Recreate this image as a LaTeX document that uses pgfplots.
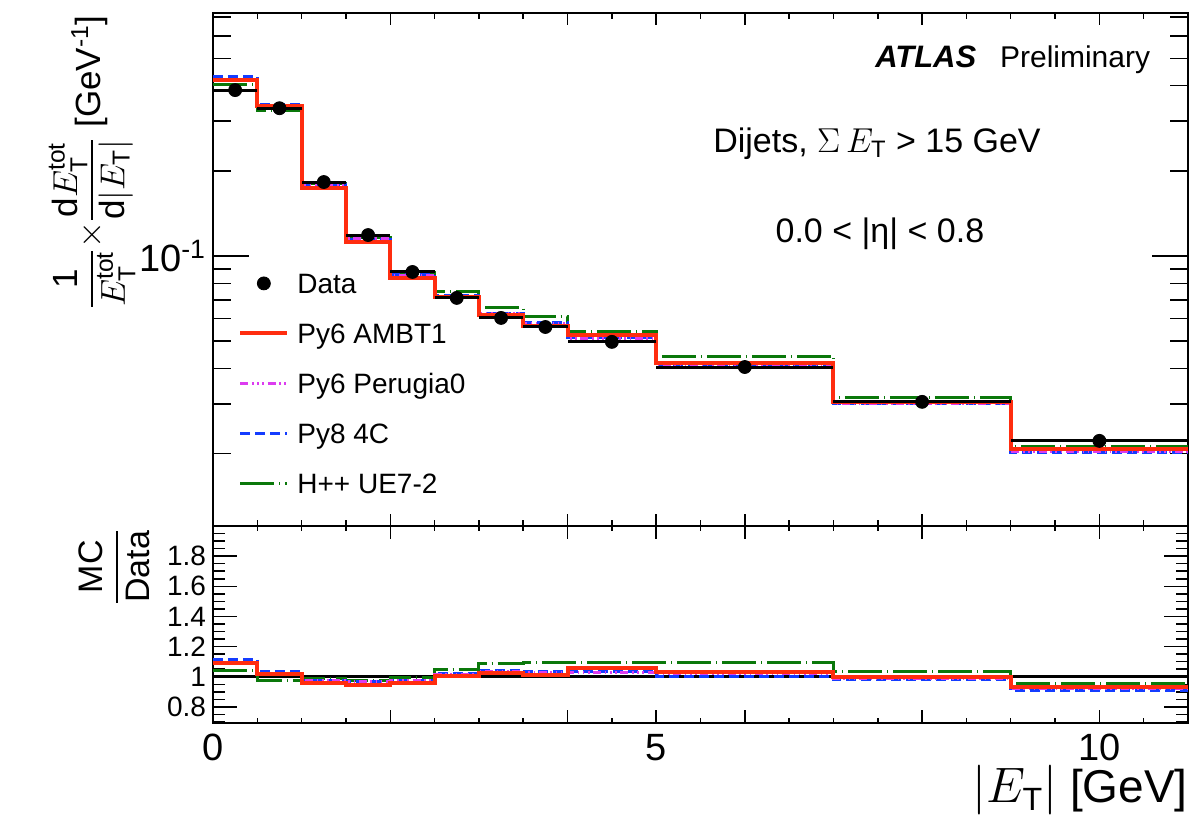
\documentclass[border=0pt]{standalone}
\usepackage{pgfplots}
\pgfplotsset{compat=1.18}
\usepackage{pgfplotstable}
\usepackage{amsmath}
\usepackage{fontspec}
\setmainfont{Liberation Sans}

\definecolor{ambt}{RGB}{255,45,15}
\definecolor{perugia}{RGB}{220,60,240}
\definecolor{pyeight}{RGB}{20,60,255}
\definecolor{herwig}{RGB}{10,120,10}

% bin lower edges, last row closes the histogram at 11
\pgfplotstableread{
x    py6a   py6p   py8    hpp
0    0.4204 0.4188 0.4308 0.4030
0.5  0.3383 0.3397 0.3440 0.3257
1    0.1746 0.1780 0.1786 0.1808
1.5  0.1120 0.1150 0.1147 0.1160
2    0.0839 0.0856 0.0859 0.0874
2.5  0.0714 0.0722 0.0725 0.0747
3    0.0620 0.0625 0.0628 0.0658
3.5  0.0567 0.0578 0.0580 0.0613
4    0.0525 0.0512 0.0513 0.0543
5    0.0418 0.0413 0.0407 0.0443
7    0.0305 0.0302 0.0300 0.0315
9    0.0207 0.0204 0.0202 0.0212
11   0.0207 0.0204 0.0202 0.0212
}\mc

\pgfplotstableread{
x     y      ex
0.25  0.386  0.25
0.75  0.333  0.25
1.25  0.1826 0.25
1.75  0.1186 0.25
2.25  0.0878 0.25
2.75  0.0711 0.25
3.25  0.0604 0.25
3.75  0.0561 0.25
4.5   0.0497 0.5
6     0.0405 1
8     0.0305 1
10    0.0222 1
}\data

\pgfplotstableread{
x    py6a  py6p  py8   hpp
0    1.089 1.085 1.116 1.044
0.5  1.016 1.020 1.033 0.978
1    0.956 0.975 0.978 0.990
1.5  0.944 0.970 0.967 0.978
2    0.956 0.975 0.978 0.996
2.5  1.004 1.015 1.020 1.050
3    1.027 1.035 1.040 1.090
3.5  1.011 1.030 1.033 1.093
4    1.056 1.030 1.033 1.093
5    1.033 1.020 1.004 1.093
7    1.000 0.990 0.982 1.033
9    0.933 0.920 0.911 0.956
11   0.933 0.920 0.911 0.956
}\ratio

\pgfplotsset{
  atlas/.style={
    scale only axis, width=487.5pt,
    xmin=0, xmax=11,
    axis line style={line width=0.75pt},
    every tick/.style={black, line width=0.75pt},
    tick align=inside,
    xtick={0,2,4,5,6,8,10},
    minor xtick={0.5,1,...,10.5},
    clip mode=individual,
    /pgf/number format/assume math mode=true,
  },
  stepleg/.style={legend image code/.code={\draw[##1] (0pt,0pt) -- (23.5pt,0pt);}},
  hwdash/.style={dash pattern=on 17pt off 2.5pt on 0.5pt off 2.5pt},
  p0dash/.style={dash pattern=on 4pt off 1.8pt on 0.8pt off 1.8pt on 0.8pt off 1.8pt on 0.8pt off 1.8pt},
}

\begin{document}
\begin{tikzpicture}
\begin{axis}[atlas,
  at={(0,0)}, anchor=south west, height=256.5pt,
  ymode=log, ymin=0.0111, ymax=0.723,
  xticklabels={},
  ytick={0.1}, yticklabels={10\textsuperscript{-1}},
  minor ytick={0.02,0.03,0.04,0.05,0.06,0.07,0.08,0.09,0.2,0.3,0.4,0.5,0.6,0.7},
  xtick style={/pgfplots/major tick length=6pt, /pgfplots/minor tick length=3pt},
  ytick style={/pgfplots/major tick length=18pt, /pgfplots/minor tick length=9pt},
  yticklabel style={font=\fontsize{19}{19}\selectfont},
  reverse legend,
  legend cell align=left,
  legend style={at={(0.0256,0.4932)}, anchor=north west, draw=none, fill=none,
    inner sep=0pt, row sep=15pt, column sep=4pt,
    font=\fontsize{14}{16}\selectfont,
    nodes={inner sep=0pt, text height=10pt, text depth=0pt}},
]
\addplot[herwig, line width=1.5pt, const plot, hwdash, stepleg] table[x=x, y=hpp] {\mc};
\addlegendentry{H++ UE7-2}
\addplot[pyeight, line width=1.5pt, const plot, dash pattern=on 5pt off 2.5pt, stepleg] table[x=x, y=py8] {\mc};
\addlegendentry{Py8 4C}
\addplot[perugia, line width=1.5pt, const plot, p0dash, stepleg] table[x=x, y=py6p] {\mc};
\addlegendentry{Py6 Perugia0}
\addplot[ambt, line width=2pt, const plot, stepleg] table[x=x, y=py6a] {\mc};
\addlegendentry{Py6 AMBT1}
\addplot[black, only marks, mark=*, mark size=3.25pt,
  legend image code/.code={\path[draw=none] (0pt,0pt) -- (23.5pt,0pt); \fill[black] (11.75pt,0pt) circle (3.25pt);},
  error bars/.cd, x dir=both, x explicit, error mark=none,
  error bar style={line width=1.5pt, black}]
  table[x=x, y=y, x error=ex] {\data};
\addlegendentry{Data}

\node[anchor=base west, font=\fontsize{15.5}{16}\selectfont\bfseries\itshape] at (rel axis cs:0.672,0.893) {ATLAS};
\node[anchor=base west, font=\fontsize{15}{16}\selectfont] at (rel axis cs:0.8,0.893) {Preliminary};
\node[anchor=base, font=\fontsize{17}{18}\selectfont] at (rel axis cs:0.681,0.729) {Dijets, $\Sigma\,E_{\text{T}}$ > 15 GeV};
\node[anchor=base, font=\fontsize{17}{18}\selectfont] at (rel axis cs:0.684,0.552) {0.0 < |η| < 0.8};
\node[rotate=90, anchor=east, inner sep=0pt, font=\fontsize{17.5}{19}\selectfont] at (rel axis cs:-0.124,0.996)
  {$\displaystyle\frac{\text{1}}{E_{\text{T}}^{\text{tot}}}{\times}\frac{\text{d}E_{\text{T}}^{\text{tot}}}{\text{d}|E_{\text{T}}|}$ [GeV$^{\text{-1}}$]};
\end{axis}

\begin{axis}[atlas,
  at={(0,0)}, anchor=north west, height=98.5pt,
  ymin=0.693, ymax=2,
  xticklabels={0,{},{},5,{},{},10},
  ytick={0.8,1,1.2,1.4,1.6,1.8}, yticklabels={0.8,1,1.2,1.4,1.6,1.8},
  minor ytick={0.7,0.75,...,2.0},
  xtick style={/pgfplots/major tick length=6.5pt, /pgfplots/minor tick length=2.5pt},
  ytick style={/pgfplots/major tick length=12pt, /pgfplots/minor tick length=6pt},
  xticklabel style={font=\fontsize{19}{19}\selectfont, yshift=-2pt},
  yticklabel style={font=\fontsize{14}{14}\selectfont},
]
\addplot[black, line width=1.5pt] coordinates {(0,1) (11,1)};
\addplot[herwig, line width=1.5pt, const plot, hwdash] table[x=x, y=hpp] {\ratio};
\addplot[pyeight, line width=1.5pt, const plot, dash pattern=on 5pt off 2.5pt] table[x=x, y=py8] {\ratio};
\addplot[perugia, line width=1.5pt, const plot, p0dash] table[x=x, y=py6p] {\ratio};
\addplot[ambt, line width=2pt, const plot] table[x=x, y=py6a] {\ratio};

\node[rotate=90, anchor=east, inner sep=0pt, font=\fontsize{17}{18}\selectfont] at (rel axis cs:-0.1015,0.99)
  {$\displaystyle\frac{\text{MC}}{\text{Data}}$};
\node[anchor=base east, inner sep=0pt, font=\fontsize{23}{24}\selectfont] at (rel axis cs:1,-0.406)
  {$|E_{\text{T}}|$ [GeV]};
\end{axis}

\path (-106.5pt,-143.5pt) rectangle (494.5pt,263pt);
\end{tikzpicture}
\end{document}
